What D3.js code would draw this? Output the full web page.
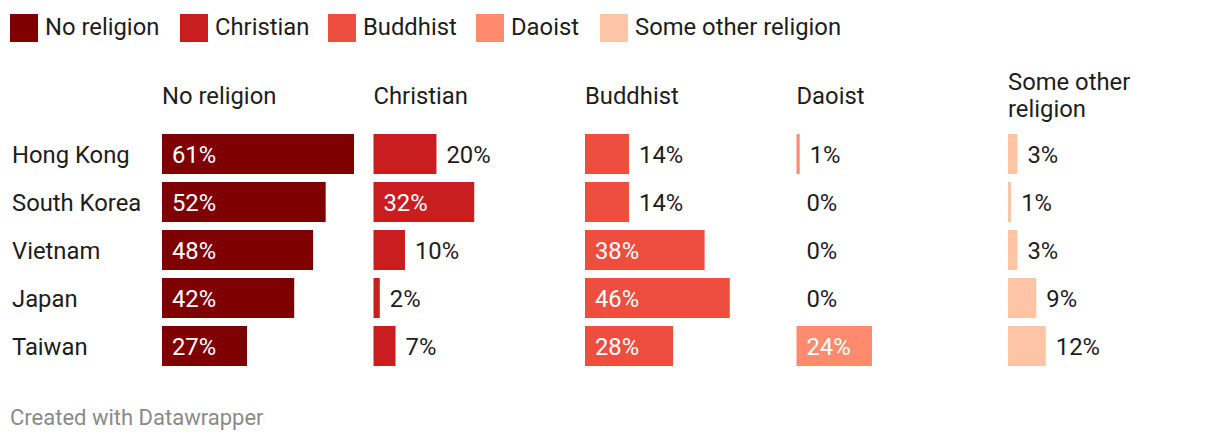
<!DOCTYPE html>
<html><head><meta charset="utf-8">
<script src="https://cdn.jsdelivr.net/npm/d3@7"></script>
<style>
body{margin:0;background:#fff;}
text{font-family:Roboto,"Noto Sans",sans-serif;}
</style></head>
<body><svg id="c" width="1220" height="444"></svg>
<script>
const countries = ["Hong Kong","South Korea","Vietnam","Japan","Taiwan"];
const religions = ["No religion","Christian","Buddhist","Daoist","Some other religion"];
const noReligion = [61,52,48,42,27];
const christian = [20,32,10,2,7];
const buddhist = [14,14,38,46,28];
const daoist = [1,0,0,0,24];
const otherReligion = [3,1,3,9,12];
const colors = ["#7f0000","#c91e1f","#ee4e3f","#ff8a6e","#fec4a6"];

const series = [noReligion, christian, buddhist, daoist, otherReligion];
const svg = d3.select("#c");
const FS = 23.8;
const textColor = "#1d1d1d";

// Legend
const legend = svg.append("g");
const legendX = [10,180,328,476,600];
religions.forEach((r,i)=>{
  legend.append("rect").attr("x",legendX[i]).attr("y",14).attr("width",28).attr("height",28).attr("fill",colors[i]);
  legend.append("text").attr("x",legendX[i]+35).attr("y",35).attr("font-size",FS).attr("fill",textColor).text(r);
});

// scales
const col = d3.scaleBand().domain(religions).range([162,1200]).paddingInner(19.5/211.5).paddingOuter(0);
const row = d3.scaleBand().domain(countries).range([130,370]).paddingInner(1/6).paddingOuter(1/12);
const x = d3.scaleLinear().domain([0, d3.max(series.flat())]).range([0, col.bandwidth()]);

// headers
religions.forEach((r)=>{
  const words = r.split(" ");
  const lines = [];
  let cur = [];
  const tmp = svg.append("text").attr("font-size",FS);
  words.forEach(w=>{
    const test = cur.concat([w]).join(" ");
    tmp.text(test);
    if (tmp.node().getComputedTextLength() > col.bandwidth()-30 && cur.length){ lines.push(cur.join(" ")); cur=[w]; }
    else cur.push(w);
  });
  lines.push(cur.join(" "));
  tmp.remove();
  const lh = 27;
  const base = 103.5 - (lines.length-1)*lh/2;
  const t = svg.append("text").attr("font-size",FS).attr("fill",textColor);
  lines.forEach((l,k)=>{
    t.append("tspan").attr("x",col(r)).attr("y",base+k*lh).text(l);
  });
});

// row labels
countries.forEach(c=>{
  svg.append("text").attr("x",12).attr("y",row(c)+row.bandwidth()/2).attr("dy","0.36em")
    .attr("font-size",FS).attr("fill",textColor).text(c);
});

// bars
religions.forEach((r,ri)=>{
  const g = svg.append("g");
  countries.forEach((c,ci)=>{
    const v = series[ri][ci];
    const w = x(v);
    g.append("rect").attr("x",col(r)).attr("y",row(c)).attr("width",w).attr("height",row.bandwidth()).attr("fill",colors[ri]);
    const inside = v > 22;
    g.append("text")
      .attr("x", inside ? col(r)+10 : col(r)+w+10)
      .attr("y", row(c)+row.bandwidth()/2).attr("dy","0.36em")
      .attr("font-size",FS).attr("fill", inside ? "#ffffff" : textColor)
      .text(v+"%");
  });
});

// footer
svg.append("text").attr("x",10).attr("y",425).attr("font-size",22).attr("fill","#8a8a8a").text("Created with Datawrapper");
</script></body></html>
